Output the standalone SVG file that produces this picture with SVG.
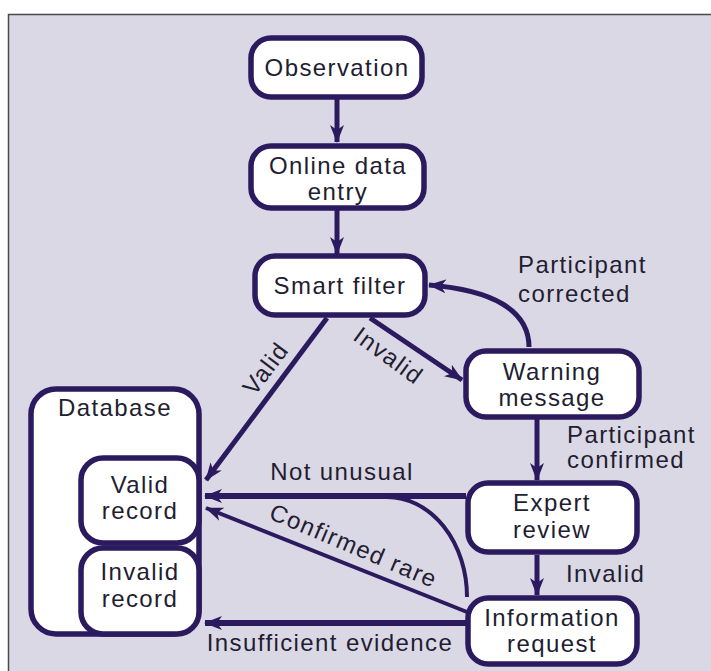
<svg xmlns="http://www.w3.org/2000/svg" width="711" height="671" viewBox="0 0 711 671">
<defs>
<style>
.box{fill:#ffffff;stroke:#2b1a5e;stroke-width:5.5}
.t{font-family:"Liberation Sans",Arial,sans-serif;font-size:24px;letter-spacing:1.4px;fill:#221d30;text-anchor:middle}
.l{text-anchor:start}
.c{fill:none;stroke:#2b1a5e;stroke-width:5}
.th{stroke-width:6}
.tn{stroke-width:4}
</style>
<marker id="ah" viewBox="0 0 18 14" refX="17" refY="7" markerWidth="18" markerHeight="14" markerUnits="userSpaceOnUse" orient="auto">
<path d="M0,0 L18,7 L0,14 L5,7 z" fill="#2b1a5e"/>
</marker>
</defs>
<rect x="0" y="0" width="711" height="671" fill="#ffffff"/>
<rect x="8.5" y="14.5" width="720" height="680" fill="#dbd8e6" stroke="#4a4a4a" stroke-width="1.5"/>

<g id="connectors">
<line class="c" x1="337" y1="99" x2="337" y2="142" marker-end="url(#ah)"/>
<line class="c" x1="337" y1="210" x2="337" y2="254" marker-end="url(#ah)"/>
<line class="c" x1="327" y1="318" x2="206" y2="480" marker-end="url(#ah)"/>
<line class="c" x1="370" y1="318" x2="462" y2="380" marker-end="url(#ah)"/>
<path class="c" d="M529,347 C529,310 492,290 429,285" marker-end="url(#ah)"/>
<line class="c" x1="537" y1="419" x2="537" y2="480" marker-end="url(#ah)"/>
<line class="c" x1="537" y1="555" x2="537" y2="595" marker-end="url(#ah)"/>
<line class="c th" x1="466" y1="496" x2="205" y2="496" marker-end="url(#ah)"/>
<path class="c tn" d="M467,597 A80,100 0 0 0 387,497"/>
<line class="c tn" x1="467" y1="612" x2="206" y2="508" marker-end="url(#ah)"/>
<line class="c th" x1="466" y1="623" x2="205" y2="623" marker-end="url(#ah)"/>
</g>

<g id="observation">
<rect class="box" x="251" y="38" width="171" height="59" rx="20"/>
<text class="t" x="337" y="76">Observation</text>
</g>
<g id="online-data-entry">
<rect class="box" x="251" y="146" width="173" height="62" rx="20"/>
<text class="t" x="338" y="174">Online data</text>
<text class="t" x="338" y="200">entry</text>
</g>
<g id="smart-filter">
<rect class="box" x="255" y="256" width="170" height="59" rx="20"/>
<text class="t" x="340" y="294">Smart filter</text>
</g>
<g id="warning-message">
<rect class="box" x="466" y="351" width="173" height="66" rx="20"/>
<text class="t" x="552" y="380">Warning</text>
<text class="t" x="552" y="406">message</text>
</g>
<g id="expert-review">
<rect class="box" x="468" y="483" width="169" height="69" rx="20"/>
<text class="t" x="552" y="511">Expert</text>
<text class="t" x="552" y="538">review</text>
</g>
<g id="information-request">
<rect class="box" x="468" y="598" width="169" height="66" rx="20"/>
<text class="t" x="552" y="626">Information</text>
<text class="t" x="552" y="652">request</text>
</g>
<g id="database">
<rect class="box" x="31" y="389" width="168" height="245" rx="25"/>
<text class="t" x="115" y="416">Database</text>
</g>
<g id="valid-record">
<rect class="box" x="81" y="458" width="118" height="85" rx="22"/>
<text class="t" x="140" y="493">Valid</text>
<text class="t" x="140" y="519">record</text>
</g>
<g id="invalid-record">
<rect class="box" x="81" y="548" width="118" height="86" rx="22"/>
<text class="t" x="140" y="580">Invalid</text>
<text class="t" x="140" y="607">record</text>
</g>

<g id="labels">
<text class="t" transform="translate(265,368) rotate(-53)" x="0" y="9">Valid</text>
<text class="t" transform="translate(389,355) rotate(36)" x="0" y="9">Invalid</text>
<text class="t l" x="518" y="273">Participant</text>
<text class="t l" x="518" y="302">corrected</text>
<text class="t l" x="567" y="443">Participant</text>
<text class="t l" x="567" y="468">confirmed</text>
<text class="t" x="342" y="480">Not unusual</text>
<text class="t" transform="translate(354,545) rotate(23)" x="0" y="9">Confirmed rare</text>
<text class="t l" x="566" y="582">Invalid</text>
<text class="t" x="330" y="651">Insufficient evidence</text>
</g>
</svg>
